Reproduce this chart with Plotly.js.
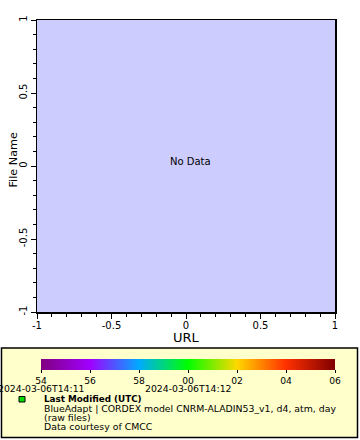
<!DOCTYPE html>
<html><head><meta charset="utf-8">
<script src="https://cdn.plot.ly/plotly-3.0.1.min.js"></script>
<style>html,body{margin:0;padding:0;background:#fff}#chart{width:360px;height:440px}</style>
</head><body><div id="chart"></div>
<script>
// Data (the chart shows "No Data")
const xValues = [];
const yValues = [];
const axisTickVals = [-1, -0.5, 0, 0.5, 1];
const axisTickText = ['-1', '-0.5', '0', '0.5', '1'];
const colorTickVals = [54, 56, 58, 60, 62, 64, 66];
const colorTickText = ['54', '56', '58', '00', '02', '04', '06'];
const minuteLabels = ['2024-03-06T14:11', '2024-03-06T14:12'];
const minuteVals = [54, 60];
const colorMin = 54, colorMax = 66;
const legendTitle = 'Last Modified (UTC)';
const legendLines = ['BlueAdapt | CORDEX model CNRM-ALADIN53_v1, d4, atm, day', '(raw files)', 'Data courtesy of CMCC'];

const W = 360, H = 440, L = 37, R = 25, T = 20, B = 128;
const pw = W - L - R, ph = H - T - B;
const px = v => (v - L) / pw;
const py = v => (H - B - v) / ph;
const cbLeft = 41, cbRight = 335;
const cbX = v => px(cbLeft + (v - colorMin) / (colorMax - colorMin) * (cbRight - cbLeft));
const font = 'DejaVu Sans, sans-serif';

const colorscale = [[0, '#800080'], [0.167, '#A000FF'], [0.333, '#00AAFF'], [0.5, '#00FF00'], [0.667, '#FFD700'], [0.833, '#FF3000'], [1, '#800000']];

const traces = [{
  type: 'scatter', mode: 'markers',
  x: xValues.length ? xValues : [null], y: yValues.length ? yValues : [null],
  hoverinfo: 'skip', showlegend: false,
  marker: {
    color: [colorMin], cmin: colorMin, cmax: colorMax, colorscale: colorscale, showscale: true,
    colorbar: {
      orientation: 'h', x: px(cbLeft), xanchor: 'left', y: py(359), yanchor: 'top',
      lenmode: 'pixels', len: cbRight - cbLeft, thickness: 11, xpad: 0, ypad: 0,
      outlinewidth: 0, ticks: 'outside', ticklen: 3, tickcolor: '#000',
      tickvals: colorTickVals, ticktext: colorTickText,
      tickfont: {family: font, size: 9.2, color: '#000'}
    }
  }
}];

const txt = (size) => ({family: font, size: size, color: '#000'});
const annotations = [
  {text: 'No Data', x: px(190), y: py(162), xref: 'paper', yref: 'paper', showarrow: false, font: txt(10)},
  {text: 'URL', x: px(186.5), y: py(337.5), xref: 'paper', yref: 'paper', xanchor: 'center', yanchor: 'middle', showarrow: false, font: txt(13)},
  {text: 'File Name', x: px(12.5), y: py(160), xref: 'paper', yref: 'paper', xanchor: 'center', yanchor: 'middle', textangle: -90, showarrow: false, font: txt(11.2)},
  {text: '<b>' + legendTitle + '</b>', x: px(42), y: py(399), xref: 'paper', yref: 'paper', xanchor: 'left', yanchor: 'middle', showarrow: false, font: txt(8.8)}
];
minuteLabels.forEach((t, i) => annotations.push({text: t, x: cbX(minuteVals[i]), y: py(388.5), xref: 'paper', yref: 'paper', xanchor: 'center', yanchor: 'middle', showarrow: false, font: txt(9.3)}));
legendLines.forEach((t, i) => annotations.push({text: t, x: px(42), y: py(408.8 + i * 8.6), xref: 'paper', yref: 'paper', xanchor: 'left', yanchor: 'middle', showarrow: false, font: txt(9.35)}));

const shapes = [
  {type: 'rect', xref: 'paper', yref: 'paper', x0: px(1.5), x1: px(357.5), y0: py(348), y1: py(437.5), fillcolor: '#FFFFCC', line: {color: '#000', width: 1.5}, layer: 'below'},
  {type: 'rect', xref: 'paper', yref: 'paper', x0: px(19), x1: px(25), y0: py(396.5), y1: py(402), fillcolor: '#00DD00', line: {color: '#000', width: 1}}
];

const axisCommon = {
  range: [-1, 1], tickmode: 'array', tickvals: axisTickVals, ticktext: axisTickText,
  ticks: 'outside', ticklen: 5, tickcolor: '#000',
  showline: true, linecolor: '#000', linewidth: 1.5, mirror: true, showgrid: false, zeroline: false,
  tickfont: txt(10),
  minor: {dtick: 0.1, tick0: -1, ticks: 'outside', ticklen: 3, tickcolor: '#000', showgrid: false}
};

const layout = {
  width: W, height: H, margin: {l: L, r: R, t: T, b: B},
  paper_bgcolor: '#FFFFFF', plot_bgcolor: '#CCCCFF',
  xaxis: Object.assign({}, axisCommon, {ticklabelstandoff: -2}),
  yaxis: Object.assign({}, axisCommon, {tickangle: -90}),
  annotations: annotations, shapes: shapes, showlegend: false
};

Plotly.newPlot('chart', traces, layout, {displayModeBar: false, staticPlot: true});
</script></body></html>
